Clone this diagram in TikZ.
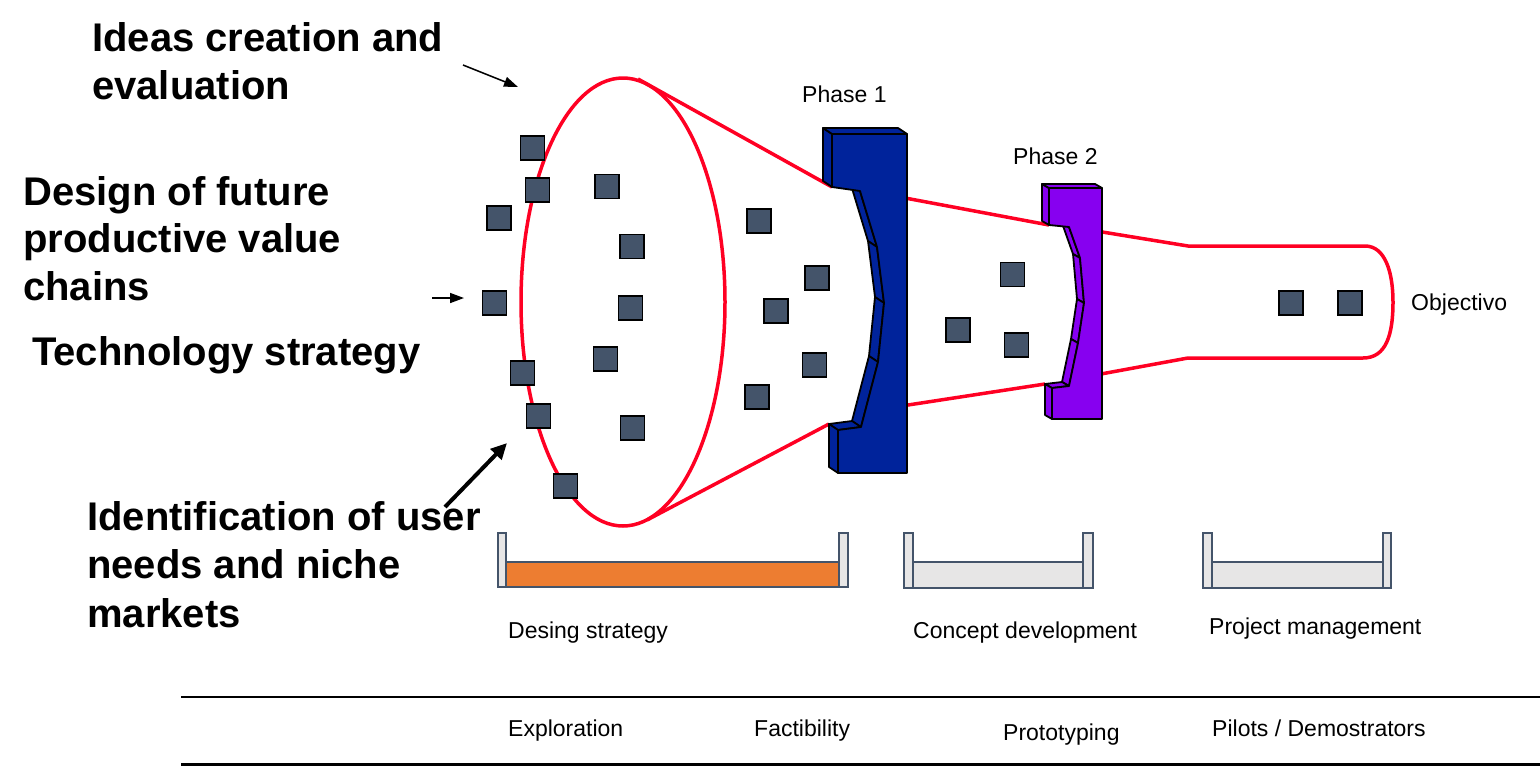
\documentclass[tikz,border=0pt]{standalone}
\usepackage{fontspec}
\setmainfont{Liberation Sans}
\usetikzlibrary{arrows.meta,calc}
\definecolor{fred}{RGB}{255,0,35}
\definecolor{sqfill}{RGB}{68,84,106}
\definecolor{gblue}{RGB}{0,35,155}
\definecolor{gpurple}{RGB}{135,0,240}
\definecolor{barorange}{RGB}{237,125,49}
\definecolor{barlight}{RGB}{231,230,230}
\definecolor{barline}{RGB}{68,84,106}
\begin{document}
\begin{tikzpicture}[x=1pt,y=-1pt,
  redline/.style={draw=fred, line width=3.5pt, line join=round},
  sq/.style={rectangle, draw=black, fill=sqfill, line width=1.5pt, minimum size=24pt, inner sep=0pt},
  boldlbl/.style={font=\bfseries\fontsize{40}{47.5}\selectfont, align=left, anchor=base west, inner sep=0pt},
  lbl/.style={font=\fontsize{23}{27}\selectfont, anchor=base west, inner sep=0pt},
  gateone/.style={fill=gblue, draw=black, line width=1.8pt, line join=round},
  gatetwo/.style={fill=gpurple, draw=black, line width=1.8pt, line join=round},
  barbox/.style={draw=barline, line width=1.5pt},
  thinarrow/.style={draw=black, line width=1.5pt, -{Triangle[length=14pt,width=10pt]}},
  thickarrow/.style={draw=black, line width=4pt, -{Triangle[length=16pt,width=15pt]}},
  rule/.style={draw=black, line width=2.5pt}]
\useasboundingbox (0,0) rectangle (1540,766);

% ---------- funnel outline ----------
\draw[redline] (623,302) ellipse [x radius=102pt, y radius=224pt];
\coordinate (e1) at (638,79);
\coordinate (e2) at (647,520);
\coordinate (b5back) at (1045,384);

% gate 1 front vertices
\coordinate (a1) at (832,134);
\coordinate (a2) at (907,134);
\coordinate (a3) at (907,473);
\coordinate (a4) at (838,473);
\coordinate (a5) at (838,430);
\coordinate (a6) at (861,427);
\coordinate (a7) at (878,362);
\coordinate (a8) at (884,303);
\coordinate (a9) at (877,247);
\coordinate (a10) at (860,191);
\coordinate (a11) at (832,187);
% gate 2 front vertices
\coordinate (b1) at (1049,188);
\coordinate (b2) at (1102,188);
\coordinate (b3) at (1102,419);
\coordinate (b4) at (1052,419);
\coordinate (b5) at (1052,388);
\coordinate (b6) at (1069,386);
\coordinate (b7) at (1078,343);
\coordinate (b8) at (1084,303);
\coordinate (b9) at (1080,258);
\coordinate (b10) at (1069,227);
\coordinate (b11) at (1049,225);

\coordinate (m1) at (880,193.3);
\coordinate (m2) at (880,409.3);
\coordinate (n1) at (1090,230);
\coordinate (n2) at (1090,376);
\coordinate (c1) at (1188,246);
\coordinate (c2) at (1365,246);
\coordinate (c3) at (1363,358);
\coordinate (c4) at (1188,358);

\draw[redline] (e1) -- (a11);
\draw[redline] (e2) -- ($(a5)+(-9,-6)$);
\draw[redline] (m1) -- (b11);
\draw[redline] (m2) -- (b5back);
\draw[redline] (n1) -- (c1) -- (c2)
  .. controls (1385,246) and (1393,272) .. (1393,302)
  .. controls (1393,335) and (1386,358) .. (c3) -- (c4) -- (n2);

% ---------- gate 1 ----------
\foreach \p/\q in {a11/a1, a1/a2, a10/a9, a9/a8, a8/a7, a7/a6, a6/a5, a5/a4}
  \filldraw[gateone] (\p) -- (\q) -- ($(\q)+(-9,-6)$) -- ($(\p)+(-9,-6)$) -- cycle;
\filldraw[gateone] (a1) -- (a2) -- (a3) -- (a4) -- (a5) -- (a6) -- (a7) -- (a8) -- (a9) -- (a10) -- (a11) -- cycle;

% ---------- gate 2 ----------
\foreach \p/\q in {b11/b1, b1/b2, b10/b9, b9/b8, b8/b7, b7/b6, b6/b5, b5/b4}
  \filldraw[gatetwo] (\p) -- (\q) -- ($(\q)+(-7,-4)$) -- ($(\p)+(-7,-4)$) -- cycle;
\filldraw[gatetwo] (b1) -- (b2) -- (b3) -- (b4) -- (b5) -- (b6) -- (b7) -- (b8) -- (b9) -- (b10) -- (b11) -- cycle;

% ---------- squares ----------
\node[sq] (sq1) at (532.5,148) {};
\node[sq] (sq2) at (537.5,190) {};
\node[sq] (sq3) at (607,186.5) {};
\node[sq] (sq4) at (499,218) {};
\node[sq] (sq5) at (632,246.5) {};
\node[sq] (sq6) at (494.5,303) {};
\node[sq] (sq7) at (630.5,308) {};
\node[sq] (sq8) at (605.5,359) {};
\node[sq] (sq9) at (522.5,373) {};
\node[sq] (sq10) at (538.5,416) {};
\node[sq] (sq11) at (632.5,428) {};
\node[sq] (sq12) at (565.5,486) {};
\node[sq] (sq13) at (759,221) {};
\node[sq] (sq14) at (817,278) {};
\node[sq] (sq15) at (776,311) {};
\node[sq] (sq16) at (814.5,365) {};
\node[sq] (sq17) at (757,397) {};
\node[sq] (sq18) at (1012.5,274.5) {};
\node[sq] (sq19) at (958,330) {};
\node[sq] (sq20) at (1016.5,345) {};
\node[sq] (sq21) at (1291,303) {};
\node[sq] (sq22) at (1350,303) {};

% ---------- left labels and arrows ----------
% (base anchor of a multi-line node = baseline of its last line)
\node[boldlbl] (t1) at (92,99) {Ideas creation and\\evaluation};
\node[boldlbl] (t2) at (23,300) {Design of future\\productive value\\chains};
\node[boldlbl] (t3) at (32,365) {Technology strategy};
\node[boldlbl, font=\bfseries\fontsize{40}{48.5}\selectfont] (t4) at (87,627) {Identification of user\\needs and niche\\markets};

\coordinate (ar1s) at (463,65);
\coordinate (ar1e) at (518,87);
\coordinate (ar2s) at (432,298);
\coordinate (ar2e) at (464,298);
\coordinate (ar3s) at (445,507);
\coordinate (ar3e) at (507,443);
\draw[thinarrow] (ar1s) -- (ar1e);
\draw[thinarrow] (ar2s) -- (ar2e);
\draw[thickarrow] (ar3s) -- (ar3e);

% ---------- phase labels ----------
\node[lbl] (ph1) at (802,102) {Phase 1};
\node[lbl] (ph2) at (1013,164) {Phase 2};
\node[lbl] (obj) at (1411,310) {Objectivo};

% ---------- bars ----------
\filldraw[barbox, fill=barorange] (506,562) rectangle (839,587);
\filldraw[barbox, fill=barlight] (498,533) rectangle (506,587);
\filldraw[barbox, fill=barlight] (839,533) rectangle (848,587);

\filldraw[barbox, fill=barlight] (913,562) rectangle (1083,588);
\filldraw[barbox, fill=barlight] (904,533) rectangle (913,588);
\filldraw[barbox, fill=barlight] (1083,533) rectangle (1093,588);

\filldraw[barbox, fill=barlight] (1212,562) rectangle (1383,588);
\filldraw[barbox, fill=barlight] (1203,533) rectangle (1212,588);
\filldraw[barbox, fill=barlight] (1383,533) rectangle (1391,588);

\node[lbl] (l1) at (508,638) {Desing strategy};
\node[lbl] (l2) at (913,638) {Concept development};
\node[lbl] (l3) at (1209,634) {Project management};

% ---------- bottom stage rules ----------
\coordinate (r1l) at (181,697);
\coordinate (r1r) at (1540,697);
\coordinate (r2l) at (181,764.5);
\coordinate (r2r) at (1540,764.5);
\draw[rule] (r1l) -- (r1r);
\draw[rule] (r2l) -- (r2r);

\node[lbl] (s1) at (508,736) {Exploration};
\node[lbl] (s2) at (754,736) {Factibility};
\node[lbl] (s3) at (1003,740) {Prototyping};
\node[lbl] (s4) at (1212,736) {Pilots / Demostrators};
\end{tikzpicture}
\end{document}
